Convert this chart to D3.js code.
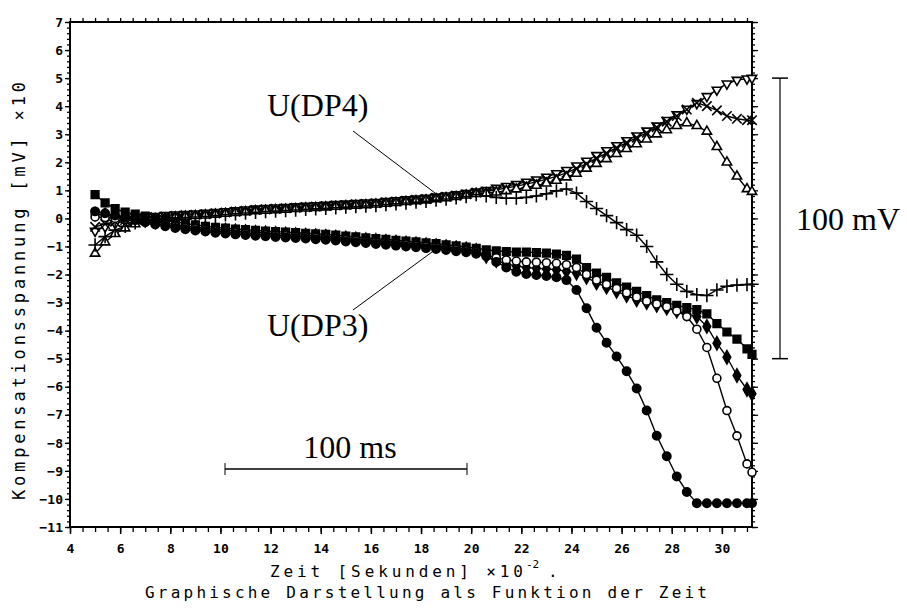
<!DOCTYPE html>
<html><head><meta charset="utf-8">
<script src="https://cdn.jsdelivr.net/npm/d3@7"></script>
<style>body{margin:0;background:#fff}svg{display:block}</style>
</head><body><svg id="chart" width="907" height="610"></svg>
<script>
// ---- data (time in s x10^-2, voltage in mV x10) ----
const times = [5.0,5.4,5.8,6.2,6.6,7.0,7.4,7.8,8.2,8.6,9.0,9.4,9.8,10.2,10.6,11.0,11.4,11.8,12.2,12.6,13.0,13.4,13.8,14.2,14.6,15.0,15.4,15.8,16.2,16.6,17.0,17.4,17.8,18.2,18.6,19.0,19.4,19.8,20.2,20.6,21.0,21.4,21.8,22.2,22.6,23.0,23.4,23.8,24.2,24.6,25.0,25.4,25.8,26.2,26.6,27.0,27.4,27.8,28.2,28.6,29.0,29.4,29.8,30.2,30.6,31.0,31.2];

const dp4TriDown = [-0.45,-0.30,-0.18,-0.10,-0.04,0.03,0.08,0.11,0.13,0.15,
 0.17,0.19,0.22,0.25,0.28,0.31,0.34,0.36,0.38,0.40,
 0.42,0.44,0.46,0.48,0.50,0.52,0.54,0.56,0.58,0.61,
 0.64,0.67,0.70,0.73,0.77,0.81,0.85,0.90,0.95,1.00,
 1.08,1.15,1.22,1.30,1.38,1.48,1.60,1.72,1.88,2.05,
 2.25,2.42,2.60,2.78,2.95,3.12,3.30,3.50,3.70,3.90,
 4.10,4.35,4.58,4.80,4.93,4.98,5.00];

const dp4Cross = [-0.30,-0.20,-0.12,-0.06,-0.02,0.02,0.05,0.07,0.09,0.11,
 0.13,0.15,0.18,0.21,0.24,0.27,0.30,0.32,0.34,0.36,
 0.38,0.40,0.42,0.44,0.46,0.48,0.50,0.52,0.54,0.57,
 0.60,0.63,0.66,0.69,0.73,0.77,0.81,0.86,0.92,0.96,
 1.02,1.08,1.15,1.22,1.30,1.40,1.50,1.62,1.78,1.95,
 2.15,2.33,2.52,2.70,2.88,3.05,3.25,3.45,3.65,3.88,
 4.12,4.00,3.85,3.65,3.55,3.50,3.50];

const dp4TriUp = [-1.25,-0.85,-0.55,-0.35,-0.20,-0.10,-0.04,0.00,0.04,0.07,
 0.09,0.11,0.14,0.17,0.20,0.23,0.26,0.28,0.30,0.32,
 0.34,0.36,0.38,0.40,0.42,0.44,0.46,0.48,0.50,0.53,
 0.56,0.59,0.62,0.65,0.69,0.73,0.77,0.82,0.88,0.90,
 0.93,0.98,1.04,1.10,1.17,1.25,1.35,1.47,1.60,1.78,
 1.95,2.12,2.30,2.48,2.65,2.82,3.00,3.15,3.30,3.40,
 3.30,3.10,2.55,2.00,1.50,1.05,0.95];

const dp4Plus = [-0.95,-0.65,-0.42,-0.28,-0.16,-0.08,-0.03,-0.01,0.01,0.03,
 0.05,0.07,0.10,0.13,0.16,0.19,0.22,0.24,0.26,0.28,
 0.30,0.32,0.34,0.36,0.38,0.40,0.42,0.44,0.46,0.49,
 0.52,0.55,0.58,0.61,0.65,0.69,0.73,0.78,0.85,0.80,
 0.75,0.72,0.72,0.75,0.80,0.88,0.98,1.05,0.90,0.60,
 0.35,0.10,-0.15,-0.40,-0.60,-1.00,-1.55,-2.00,-2.35,-2.60,
 -2.72,-2.75,-2.55,-2.42,-2.38,-2.36,-2.35];

const dp3Square = [0.85,0.55,0.35,0.22,0.15,0.08,0.02,-0.05,-0.12,-0.18,
 -0.23,-0.28,-0.32,-0.35,-0.38,-0.40,-0.43,-0.45,-0.47,-0.49,
 -0.51,-0.53,-0.55,-0.57,-0.60,-0.63,-0.66,-0.69,-0.72,-0.75,
 -0.78,-0.81,-0.84,-0.87,-0.90,-0.94,-0.98,-1.02,-1.07,-1.12,
 -1.16,-1.18,-1.20,-1.20,-1.22,-1.24,-1.27,-1.32,-1.45,-1.75,
 -1.95,-2.10,-2.30,-2.45,-2.60,-2.75,-2.90,-3.00,-3.10,-3.18,
 -3.25,-3.40,-3.75,-4.05,-4.30,-4.65,-4.85];

const dp3Diamond = [0.15,0.12,0.08,0.04,0.00,-0.07,-0.12,-0.17,-0.22,-0.27,
 -0.31,-0.35,-0.39,-0.42,-0.45,-0.47,-0.50,-0.52,-0.54,-0.56,
 -0.58,-0.60,-0.62,-0.64,-0.67,-0.70,-0.73,-0.76,-0.79,-0.82,
 -0.85,-0.88,-0.91,-0.94,-0.97,-1.01,-1.05,-1.09,-1.14,-1.35,
 -1.50,-1.62,-1.70,-1.75,-1.78,-1.80,-1.83,-1.88,-1.95,-2.10,
 -2.30,-2.45,-2.60,-2.75,-2.90,-3.00,-3.10,-3.20,-3.30,-3.40,
 -3.50,-3.85,-4.45,-4.95,-5.60,-6.10,-6.25];

const dp3OpenCircle = [0.05,0.03,0.00,-0.03,-0.06,-0.13,-0.18,-0.23,-0.28,-0.33,
 -0.37,-0.41,-0.45,-0.48,-0.51,-0.53,-0.56,-0.58,-0.60,-0.62,
 -0.64,-0.66,-0.68,-0.70,-0.73,-0.76,-0.79,-0.82,-0.85,-0.88,
 -0.91,-0.94,-0.97,-1.00,-1.03,-1.07,-1.11,-1.15,-1.20,-1.30,
 -1.40,-1.48,-1.52,-1.55,-1.56,-1.58,-1.60,-1.65,-1.75,-2.00,
 -2.20,-2.35,-2.50,-2.65,-2.80,-2.95,-3.05,-3.15,-3.30,-3.50,
 -3.95,-4.60,-5.70,-6.85,-7.75,-8.75,-9.05];

const dp3FilledCircle = [0.25,0.18,0.10,0.02,-0.06,-0.14,-0.22,-0.28,-0.34,-0.39,
 -0.43,-0.47,-0.51,-0.54,-0.57,-0.59,-0.62,-0.64,-0.66,-0.68,
 -0.70,-0.72,-0.74,-0.76,-0.79,-0.82,-0.85,-0.88,-0.91,-0.94,
 -0.97,-1.00,-1.03,-1.06,-1.09,-1.13,-1.17,-1.21,-1.26,-1.35,
 -1.55,-1.75,-1.90,-1.98,-2.02,-2.05,-2.10,-2.20,-2.55,-3.20,
 -3.90,-4.43,-4.92,-5.45,-6.06,-6.85,-7.75,-8.48,-9.20,-9.75,
 -10.15,-10.15,-10.15,-10.15,-10.15,-10.15,-10.15];

const xTickLabels = [4,6,8,10,12,14,16,18,20,22,24,26,28,30];
const yTickLabels = [7,6,5,4,3,2,1,0,-1,-2,-3,-4,-5,-6,-7,-8,-9,-10,-11];

// ---- layout ----
const svg = d3.select("#chart");
const L = 70, R = 752, T = 22, B = 527;
const x = d3.scaleLinear().domain([4, 31.2]).range([L, R]);
const y = d3.scaleLinear().domain([-11, 7]).range([B, T]);
const mono = "'DejaVu Sans Mono', 'Liberation Mono', monospace";
const serif = "'Liberation Serif', 'Times New Roman', serif";

// axes ticks
const minorX = d3.range(4, 31.21, 0.5);
const minorY = d3.range(-11, 7.001, 0.2);
function styleAxis(g){ g.select(".domain").remove(); g.selectAll("line").attr("stroke","#000").attr("stroke-width",1.3); }

svg.append("g").attr("transform",`translate(0,${B})`)
  .call(d3.axisBottom(x).tickValues(minorX).tickSize(5).tickFormat("")).call(styleAxis);
svg.append("g").attr("transform",`translate(0,${T})`)
  .call(d3.axisTop(x).tickValues(minorX).tickSize(4).tickFormat("")).call(styleAxis);
svg.append("g").attr("transform",`translate(${L},0)`)
  .call(d3.axisLeft(y).tickValues(minorY).tickSize(3).tickFormat("")).call(styleAxis);
svg.append("g").attr("transform",`translate(${L},0)`)
  .call(d3.axisLeft(y).tickValues(yTickLabels).tickSize(5).tickFormat("")).call(styleAxis);
svg.append("g").attr("transform",`translate(${R},0)`)
  .call(d3.axisRight(y).tickValues(minorY).tickSize(3).tickFormat("")).call(styleAxis);
svg.append("g").attr("transform",`translate(${R},0)`)
  .call(d3.axisRight(y).tickValues(yTickLabels).tickSize(6).tickFormat("")).call(styleAxis);

// labelled axes
const xAx = svg.append("g").attr("transform",`translate(0,${B})`)
  .call(d3.axisBottom(x).tickValues(xTickLabels).tickSize(7).tickPadding(10));
xAx.select(".domain").remove();
xAx.selectAll("line").attr("stroke","#000").attr("stroke-width",1.5);
xAx.selectAll("text").attr("font-family",mono).attr("font-size",13).attr("font-weight","bold").attr("fill","#000");

const yAx = svg.append("g").attr("transform",`translate(${L},0)`)
  .call(d3.axisLeft(y).tickValues(yTickLabels).tickSize(0).tickPadding(7));
yAx.select(".domain").remove();
yAx.selectAll("text").attr("font-family",mono).attr("font-size",13).attr("font-weight","bold").attr("fill","#000");

// frame
svg.append("rect").attr("x",L).attr("y",T).attr("width",R-L).attr("height",B-T)
  .attr("fill","none").attr("stroke","#000").attr("stroke-width",2);

// ---- series ----
const timesSym = d3.symbolTimes || d3.symbolCross;
const plusSym = d3.symbolPlus || d3.symbolCross;
const triStroke = d3.symbolTriangle2 || d3.symbolTriangle;
const series = [
  {values: dp4TriDown, sym: triStroke, size: 62, fill: "#fff", rot: 180},
  {values: dp4Cross, sym: timesSym, size: 60, fill: "none", rot: d3.symbolTimes ? 0 : 45},
  {values: dp4TriUp, sym: triStroke, size: 62, fill: "#fff", rot: 0},
  {values: dp4Plus, sym: plusSym, size: 60, fill: "none", rot: 0},
  {values: dp3Square, sym: d3.symbolSquare, size: 58, fill: "#000", rot: 0},
  {values: dp3Diamond, sym: d3.symbolDiamond, size: 50, fill: "#000", rot: 0},
  {values: dp3OpenCircle, sym: d3.symbolCircle, size: 50, fill: "#fff", rot: 0},
  {values: dp3FilledCircle, sym: d3.symbolCircle, size: 55, fill: "#000", rot: 0}
];

const line = d3.line().x((d,i)=>x(times[i])).y(d=>y(d));
const gS = svg.append("g");
series.forEach(s => {
  gS.append("path").datum(s.values).attr("d", line)
    .attr("fill","none").attr("stroke","#000").attr("stroke-width",1.4);
});
series.forEach(s => {
  const sym = d3.symbol().type(s.sym).size(s.size);
  gS.append("g").selectAll("path").data(s.values).join("path")
    .attr("transform",(d,i)=>`translate(${x(times[i])},${y(d)}) rotate(${s.rot})`)
    .attr("d", sym)
    .attr("fill", s.fill)
    .attr("stroke","#000").attr("stroke-width",1.6);
});

// ---- annotations ----
svg.append("text").attr("x",267).attr("y",116).attr("font-family",serif).attr("font-size",32).text("U(DP4)");
svg.append("text").attr("x",267).attr("y",336).attr("font-family",serif).attr("font-size",32).text("U(DP3)");
svg.append("line").attr("x1",353).attr("y1",131).attr("x2",435).attr("y2",193).attr("stroke","#000").attr("stroke-width",1);
svg.append("line").attr("x1",353).attr("y1",310).attr("x2",432).attr("y2",252).attr("stroke","#000").attr("stroke-width",1);

// 100 mV scale bar (10 units of mV x10)
const mvX = 780;
svg.append("line").attr("x1",mvX).attr("x2",mvX).attr("y1",y(5)).attr("y2",y(-5)).attr("stroke","#000").attr("stroke-width",1.2);
[5,-5].forEach(v=> svg.append("line").attr("x1",mvX-8).attr("x2",mvX+8).attr("y1",y(v)).attr("y2",y(v)).attr("stroke","#000").attr("stroke-width",1.5));
svg.append("text").attr("x",796).attr("y",230).attr("font-family",serif).attr("font-size",32).text("100 mV");

// 100 ms scale bar
svg.append("line").attr("x1",225).attr("x2",467).attr("y1",469).attr("y2",469).attr("stroke","#000").attr("stroke-width",1.3);
[225,467].forEach(px=> svg.append("line").attr("x1",px).attr("x2",px).attr("y1",463).attr("y2",475).attr("stroke","#000").attr("stroke-width",1));
svg.append("text").attr("x",350).attr("y",458).attr("text-anchor","middle").attr("font-family",serif).attr("font-size",32).text("100 ms");

// axis titles
svg.append("text").attr("transform","translate(25,291) rotate(-90)").attr("text-anchor","middle")
  .attr("font-family",mono).attr("font-size",17).attr("textLength",418).attr("lengthAdjust","spacing")
  .text("Kompensationsspannung  [mV] \u00d710");
svg.append("text").attr("x",270).attr("y",577).attr("font-family",mono).attr("font-size",16)
  .attr("textLength",253).attr("lengthAdjust","spacing").text("Zeit [Sekunden] \u00d710");
svg.append("text").attr("x",526).attr("y",568).attr("font-family",mono).attr("font-size",11).text("-2");
svg.append("text").attr("x",548).attr("y",577).attr("font-family",mono).attr("font-size",16).text(".");
svg.append("text").attr("x",145).attr("y",598).attr("font-family",mono).attr("font-size",16)
  .attr("textLength",562).attr("lengthAdjust","spacing").text("Graphische Darstellung als Funktion der Zeit");
</script></body></html>
